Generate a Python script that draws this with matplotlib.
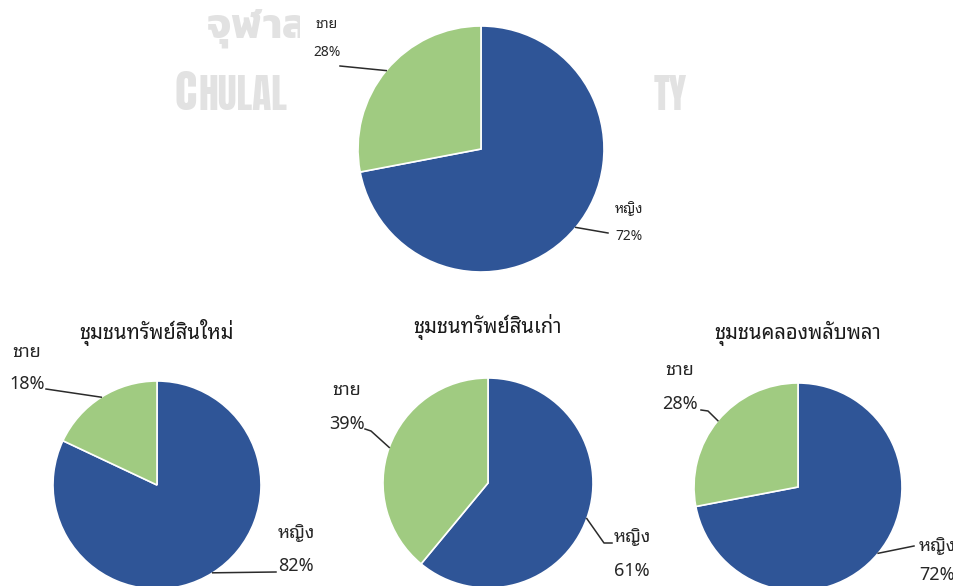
import numpy as np
import matplotlib
matplotlib.use("Agg")
import matplotlib.pyplot as plt
from matplotlib import font_manager
from matplotlib.lines import Line2D
from matplotlib.patches import Rectangle

# ---- data ----
titles = [None, "ชุมชนทรัพย์สินใหม่", "ชุมชนทรัพย์สินเก่า", "ชุมชนคลองพลับพลา"]
sexes = ["หญิง", "ชาย"]
female_pct = [72, 82, 61, 72]
male_pct = [28, 18, 39, 28]
colors = ["#2F5597", "#A0CB81"]

# ---- fonts ----
installed = {f.name for f in font_manager.fontManager.ttflist}


def pick(options, fallback="DejaVu Sans"):
    return next((o for o in options if o in installed), fallback)


THAI = pick(["Noto Sans Thai Looped", "Noto Sans Thai", "Sarabun", "Anuphan"])
WM_THAI = pick(["Kanit", "Prompt", "Noto Sans Thai"])
WM_LATIN = pick(["Anton", "Bebas Neue", "Oswald", "Liberation Sans Narrow"])
plt.rcParams["font.family"] = [THAI, "DejaVu Sans"]

W, H = 954, 586
fig = plt.figure(figsize=(W / 100, H / 100), dpi=100)
fig.patch.set_facecolor("white")
renderer = fig.canvas.get_renderer()


def fx(x, y):
    """pixel position measured from the top-left corner -> figure fraction"""
    return x / W, 1 - y / H


# ---- layout (pixels from top-left) ----
# pie centre, radius, title position, label font size,
# label centres (name, percent) and leader waypoints for each slice
layout = [
    dict(c=(481, 149), r=123, title=None, fs=10,
         lab=[((629, 209), (629, 237), [(608, 233)]),
              ((327, 25), (327, 53), [(340, 66)])]),
    dict(c=(157, 485), r=104, title=(157, 332), fs=13,
         lab=[((296, 533), (296, 566), [(276, 572)]),
              ((27, 352), (27, 384), [(46, 389)])]),
    dict(c=(488, 483), r=105, title=(488, 327), fs=13,
         lab=[((632, 537), (632, 571), [(612, 543), (604, 543)]),
              ((347, 390), (347, 424), [(365, 429), (371, 431)])]),
    dict(c=(798, 487), r=104, title=(798, 333), fs=13,
         lab=[((937, 546), (937, 575), [(914, 546)]),
              ((680, 370), (680, 404), [(701, 410), (708, 411)])]),
]

# ---- university watermark: only the parts left and right of the top chart ----
wm_color = "#E2E2E2"
wm_latin = [WM_LATIN, "DejaVu Sans"]
fig.text(*fx(207, 38), "จุฬาล", family=[WM_THAI, "DejaVu Sans"],
         fontsize=30, fontweight="bold", color=wm_color, va="baseline",
         ha="left", zorder=-3)
left_part = fig.text(*fx(199, 110), "HULAL", family=wm_latin, fontsize=30,
                     fontweight="bold", color=wm_color, va="baseline",
                     ha="left", zorder=-3)
right_part = fig.text(*fx(687, 110), "TY", family=wm_latin, fontsize=30,
                      fontweight="bold", color=wm_color, va="baseline",
                      ha="right", zorder=-3)
size = 30 * 97 / left_part.get_window_extent(renderer).width
left_part.set_fontsize(size * 0.92)
right_part.set_fontsize(size * 0.92)
fig.text(*fx(197, 110), "C", family=wm_latin, fontsize=size * 1.08,
         fontweight="bold", color=wm_color, va="baseline", ha="right",
         zorder=-3)
# the top chart's white area trims the watermark
fig.patches.append(Rectangle((300, H - 292), 352, 292, transform=None,
                             facecolor="white", edgecolor="none", zorder=-2))

text_color = "#262626"
line_color = "#2b2b2b"

for i, lay in enumerate(layout):
    cx, cy = lay["c"]
    r = lay["r"]
    left, bottom = fx(cx - r, cy + r)
    ax = fig.add_axes([left, bottom, 2 * r / W, 2 * r / H])
    vals = [female_pct[i], male_pct[i]]
    wedges, _ = ax.pie(vals, colors=colors, startangle=90, counterclock=False,
                       radius=1, wedgeprops=dict(edgecolor="white", linewidth=1.2))
    ax.set_xlim(-1, 1)
    ax.set_ylim(-1, 1)
    ax.set_aspect("equal")
    ax.axis("off")

    if titles[i] and lay["title"]:
        fig.text(*fx(*lay["title"]), titles[i], fontsize=14.5, color="#1a1a1a",
                 ha="center", va="center")

    fig.canvas.draw()
    for k, (w, v) in enumerate(zip(wedges, vals)):
        name_pos, pct_pos, waypoints = lay["lab"][k]
        fig.text(*fx(*name_pos), sexes[k], fontsize=lay["fs"], fontweight="bold",
                 color=text_color, ha="center", va="center", zorder=5)
        fig.text(*fx(*pct_pos), f"{v}%", fontsize=lay["fs"],
                 color=text_color, ha="center", va="center", zorder=5)
        mid = np.deg2rad((w.theta1 + w.theta2) / 2)
        ex, ey = ax.transData.transform((np.cos(mid) * w.r, np.sin(mid) * w.r))
        xs = [p[0] for p in waypoints] + [ex]
        ys = [H - p[1] for p in waypoints] + [ey]
        fig.lines.append(Line2D(xs, ys, transform=None, color=line_color,
                                linewidth=1.1, zorder=4))

fig.savefig("out.png", dpi=100, facecolor="white")
